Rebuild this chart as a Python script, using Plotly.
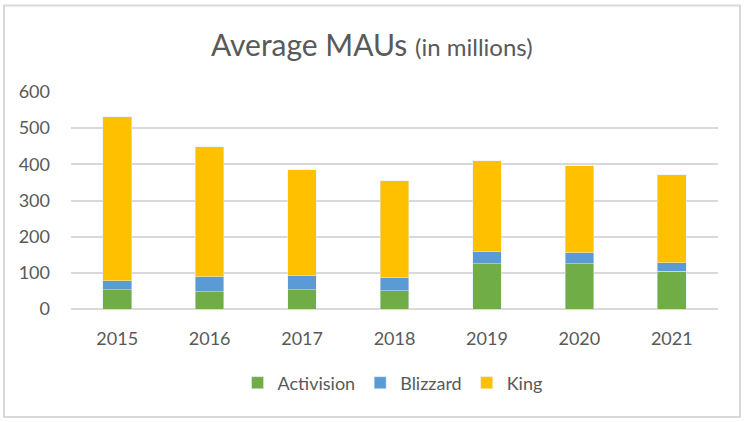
import plotly.graph_objects as go

years = ["2015", "2016", "2017", "2018", "2019", "2020", "2021"]
activision = [53, 48, 53, 51, 125, 125, 105]
blizzard = [25, 41, 39, 35, 33, 31, 23]
king = [453, 359, 293, 268, 252, 240, 243]

W, H = 748, 422
L, R, T, B = 71, 30, 92, 113
pw, ph = W - L - R, H - T - B

font_family = "Lato, 'Open Sans', sans-serif"
txt = "#595959"

fig = go.Figure()
fig.add_bar(x=years, y=activision, name="Activision", marker_color="#70AD47")
fig.add_bar(x=years, y=blizzard, name="Blizzard", marker_color="#5B9BD5")
fig.add_bar(x=years, y=king, name="King", marker_color="#FFC000")

def px_x(v):
    return (v - L) / pw

def px_y(v):
    return (H - B - v) / ph

fig.add_shape(type="rect", xref="paper", yref="paper",
              x0=px_x(4), x1=px_x(740), y0=px_y(417), y1=px_y(5.5),
              line=dict(color="#D9D9D9", width=2), fillcolor="rgba(0,0,0,0)", layer="below")

fig.update_layout(
    width=W, height=H,
    margin=dict(l=L, r=R, t=T, b=B, autoexpand=False),
    barmode="stack", bargap=0.69,
    plot_bgcolor="white", paper_bgcolor="white",
    font=dict(family=font_family, color=txt, size=18),
    title=dict(text="Average MAUs <span style='font-size:24px'>(in millions)</span>",
               x=0.497, xref="container", xanchor="center", yref="container", y=1 - 45 / H, yanchor="middle",
               font=dict(size=30, color=txt, family=font_family)),
    xaxis=dict(showgrid=False, showline=False, ticks="", ticklabelstandoff=17,
               tickfont=dict(size=18, color=txt)),
    yaxis=dict(range=[0, 600], dtick=100, showgrid=True, gridcolor="#D9D9D9", gridwidth=1.5,
               zeroline=True, zerolinecolor="#D9D9D9", zerolinewidth=1.5,
               showline=False, ticks="", ticklabelstandoff=20, tickfont=dict(size=18, color=txt)),
    legend=dict(orientation="h", x=0.497, xanchor="center", yref="container", y=1 - 383 / H, yanchor="middle",
                font=dict(size=18, color=txt), traceorder="normal", itemwidth=30),
)

fig.write_html("out.html", config={"displayModeBar": False},
               post_script="document.body.style.margin='0';document.body.style.overflow='hidden';")
